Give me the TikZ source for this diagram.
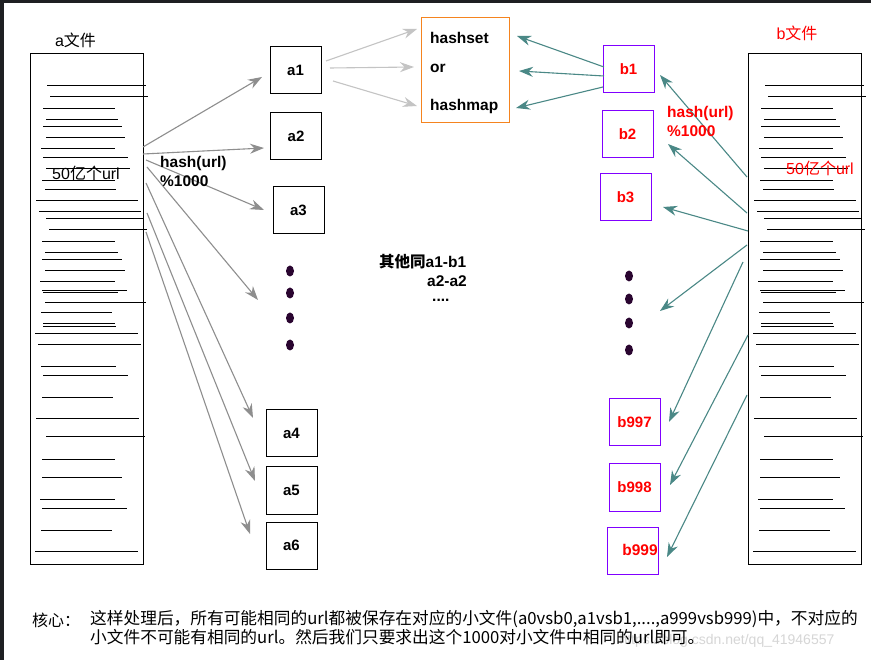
\documentclass[tikz,border=0pt]{standalone}
\usepackage{fontspec}
\setmainfont{Liberation Sans}
\newfontfamily\cjk{Noto Sans CJK SC}
\usetikzlibrary{positioning, arrows.meta}

\definecolor{framedark}{HTML}{1E1F22}
\definecolor{arrowgray}{HTML}{8E8E8E}
\definecolor{lightarrow}{HTML}{C4C4C4}
\definecolor{tealarrow}{HTML}{4A8886}
\definecolor{boxviolet}{HTML}{8000FF}
\definecolor{boxorange}{HTML}{F5841F}
\definecolor{dotpurple}{HTML}{2A0530}
\definecolor{marktext}{HTML}{D6D6D6}

\newcommand{\urllines}{%
  \foreach \y/\l/\r in {85/17/116, 96/20/118, 108/13/85, 119/16/88, 126/13/92, 137/16/95,
      148/11/85, 157/13/98, 168/16/100, 180/12/85, 189/15/86, 200/6/108, 211/9/111,
      218/16/114, 229/19/117, 241/12/85, 252/15/88, 259/12/92, 270/15/95, 281/10/85,
      290/12/97, 292/13/88, 302/15/116, 312/11/82, 323/13/85, 326/13/86, 333/5/108,
      344/8/111, 366/11/86, 375/13/98, 397/12/83, 418/6/109, 436/16/115, 459/12/85,
      477/12/92, 499/10/85, 508/12/97, 530/11/82, 551/5/108}
    \draw[line width=0.9pt] (\l,\y) -- (\r,\y);}

\begin{document}
\begin{tikzpicture}[x=1pt, y=-1pt,
    lbl/.style={inner sep=0pt, font=\fontsize{15.5}{19}\selectfont\bfseries},
    filebox/.style={draw, line width=1pt, minimum width=113pt, minimum height=510pt, inner sep=0pt},
    abox/.style={draw, line width=1pt, minimum width=51pt, minimum height=47pt, inner sep=0pt,
        font=\fontsize{15}{18}\selectfont\bfseries},
    bbox/.style={abox, draw=boxviolet, text=red},
    aarrow/.style={draw=arrowgray, line width=1.1pt, -{Stealth[length=14pt,width=10pt]}},
    harrow/.style={aarrow, draw=lightarrow},
    barrow/.style={aarrow, draw=tealarrow}]
    \useasboundingbox (0,0) rectangle (871,660);
    \fill[framedark] (0,0) rectangle (871,660);
    \fill[white] (4,3) rectangle (871,660);

    % the two big files
    \node[filebox] (afile) at (86.5,309) {};
    \node[filebox] (bfile) at (805,309) {};
    \begin{scope}[shift={(30,0)}]
        \urllines
    \end{scope}
    \begin{scope}[shift={(748,0)}]
        \urllines
    \end{scope}
    \node[font=\fontsize{16}{18}\selectfont] (atitle) at (75.5,40) {a{\cjk 文件}};
    \node[font=\fontsize{16}{18}\selectfont, text=red] (btitle) at (797,33) {b{\cjk 文件}};
    \node[font=\fontsize{16}{18}\selectfont] (acount) at (86,173) {50{\cjk 亿个}url};
    \node[font=\fontsize{16}{18}\selectfont, text=red] (bcount) at (820,168) {50{\cjk 亿个}url};

    % small files
    \node[abox] (a1) at (295.5,70.5) {a1};
    \node[abox] (a2) at (296,136.5) {a2};
    \node[abox] (a3) at (298.5,210.5) {a3};
    \node[abox] (a4) at (291.5,433) {a4};
    \node[abox] (a5) at (291.5,490.5) {a5};
    \node[abox] (a6) at (291.5,545.5) {a6};
    \node[bbox] (b1) at (628.5,69.5) {b1};
    \node[bbox] (b2) at (627.5,134.5) {b2};
    \node[bbox] (b3) at (625.5,197.5) {b3};
    \node[bbox] (b997) at (634.5,422.5) {b997};
    \node[bbox] (b998) at (634.5,487.5) {b998};
    \node[bbox] (b999) at (632.5,550.5) {};
    \node[lbl, text=red] (b999t) at (640,550) {b999};
    \foreach \y in {271,293,318,345}
        \fill[dotpurple] (290,\y) ellipse [x radius=4pt, y radius=5.5pt];
    \foreach \y in {276,299,323,350}
        \fill[dotpurple] (629,\y) ellipse [x radius=4pt, y radius=5.5pt];

    % hashset or hashmap
    \node[draw=boxorange, line width=1pt, minimum width=88pt, minimum height=105pt] (hbox) at (465,70.5) {};
    \node[lbl, anchor=west] (hset) at (430,38) {hashset};
    \node[lbl, anchor=west] (hor) at (430,68) {or};
    \node[lbl, anchor=west] (hmap) at (430,106) {hashmap};

    \coordinate (as1) at (143,147);  \coordinate (at1) at (262,77);
    \coordinate (as2) at (143,154);  \coordinate (at2) at (264,148);
    \coordinate (as3) at (146,160);  \coordinate (at3) at (264,210);
    \coordinate (asd) at (147,167);  \coordinate (atd) at (258,300);
    \coordinate (as4) at (146,183);  \coordinate (at4) at (253,418);
    \coordinate (as5) at (147,213);  \coordinate (at5) at (255,481);
    \coordinate (as6) at (146,232);  \coordinate (at6) at (250,534);
    \foreach \i in {1,2,3,d,4,5,6}
        \draw[aarrow] (as\i) -- (at\i);

    \coordinate (bs1) at (747,177);  \coordinate (bt1) at (660,75);
    \coordinate (bs2) at (747,213);  \coordinate (bt2) at (668,144);
    \coordinate (bs3) at (748,231);  \coordinate (bt3) at (663,207);
    \coordinate (bsd) at (747,245);  \coordinate (btd) at (660,311);
    \coordinate (bs4) at (743,262);  \coordinate (bt4) at (669,422);
    \coordinate (bs5) at (748,335);  \coordinate (bt5) at (670,485);
    \coordinate (bs6) at (747,395);  \coordinate (bt6) at (667,557);
    \foreach \i in {1,2,3,d,4,5,6}
        \draw[barrow] (bs\i) -- (bt\i);

    \draw[harrow] (326,61) -- (417,29);
    \draw[harrow] (330,68) -- (414,67);
    \draw[harrow] (333,81) -- (417,106);
    \draw[barrow] (604,67) -- (517,36);
    \draw[barrow] (604,76) -- (519,71);
    \draw[barrow] (603,87) -- (516,108);

    \node[lbl, anchor=north west, align=left] (ahash) at (160,156) {hash(url)\\\%1000};
    \node[lbl, anchor=north west, align=left, text=red] (bhash) at (667,106) {hash(url)\\\%1000};

    \node[lbl, anchor=west] (same) at (379,262) {{\cjk\bfseries 其他同}a1-b1};
    \node[lbl, anchor=west] (same2) at (427,281) {a2-a2};
    \node[lbl, anchor=west] (same3) at (432,300) {....};

    % note at the bottom
    \node[text=marktext, font=\fontsize{14}{16}\selectfont, anchor=west] (mark) at (616,641) {https://blog.csdn.net/qq\_41946557};
    \node[inner sep=0pt, anchor=north west, font=\cjk\fontsize{16}{18}\selectfont] (core) at (32,613) {核心：};
    \node[inner sep=0pt, anchor=north west, align=left, font=\cjk\fontsize{16.7}{19}\selectfont] (note) at (90,610)
        {这样处理后，所有可能相同的url都被保存在对应的小文件(a0vsb0,a1vsb1,....,a999vsb999)中，不对应的\\
         小文件不可能有相同的url。然后我们只要求出这个1000对小文件中相同的url即可。};
\end{tikzpicture}
\end{document}
